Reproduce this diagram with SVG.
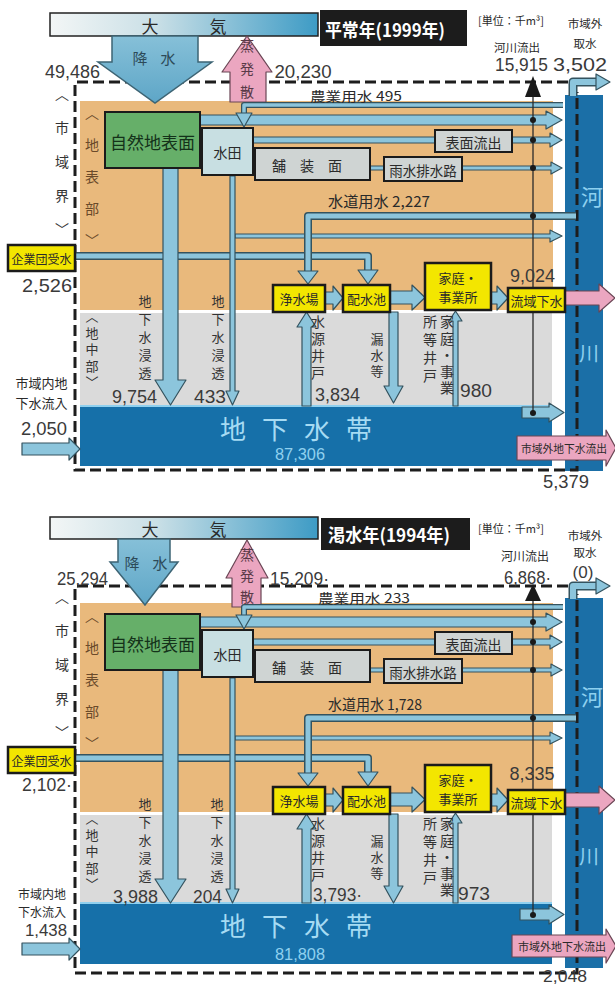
<svg xmlns="http://www.w3.org/2000/svg" width="615" height="987" viewBox="0 0 615 987">
<defs>
<linearGradient id="sky" x1="0" y1="0" x2="1" y2="0">
<stop offset="0" stop-color="#f3f6f6"/>
<stop offset="0.4" stop-color="#c9dfe6"/>
<stop offset="1" stop-color="#3d9bc5"/>
</linearGradient>
<linearGradient id="rainG" x1="0" y1="0" x2="0" y2="1">
<stop offset="0" stop-color="#86c0d8"/>
<stop offset="1" stop-color="#5ea6c7"/>
</linearGradient>
<style>
.or{fill:#e9b97c}
.gy{fill:#dadada}
.gw{fill:#1670a9}
.rv{fill:#1b6fa7}
.dash{fill:none;stroke:#1d1d1d;stroke-width:3;stroke-dasharray:11 5}
.fl{fill:#8cc5dc;stroke:#34535f;stroke-width:1.2;stroke-linejoin:round}
.rain{fill:url(#rainG);stroke:#3d6474;stroke-width:1.5}
.pk{fill:#eba6c0;stroke:#6a4655;stroke-width:1.2;stroke-linejoin:round}
.po{fill:none;stroke:#34535f;stroke-linejoin:round}
.pi{fill:none;stroke:#8cc5dc;stroke-linejoin:round}
.yb{fill:#f3e600;stroke:#1b1b1b;stroke-width:2.5}
.gb{fill:#cfd4d3;stroke:#1b1b1b;stroke-width:2}
.wb{fill:#c8dfe2;stroke:#1b1b1b;stroke-width:2}
.grn{fill:#66af69;stroke:#1b1b1b;stroke-width:2}
.t{font-family:"Noto Sans CJK JP","Noto Sans CJK SC",sans-serif;fill:#2a2a2a;text-anchor:middle;dominant-baseline:central}
.n{font-family:"Liberation Sans","Noto Sans CJK JP",sans-serif;fill:#3a3a3a;text-anchor:middle;dominant-baseline:central;font-size:18px}
.v{font-family:"Noto Sans CJK JP","Noto Sans CJK SC",sans-serif;fill:#333;writing-mode:vertical-rl;text-anchor:start}
.dot{fill:#1a1a1a}
.thin{stroke:#2a2a2a;stroke-width:1.3;fill:none}
.ah{fill:#1a1a1a}
</style>
</defs>
<rect x="0" y="0" width="615" height="987" fill="#ffffff"/>

<!-- ================= 1999 ================= -->
<g id="panel-1999">
<g id="zones-1999">
<rect class="or" x="80" y="101" width="473" height="209"/>
<rect class="gy" x="80" y="313" width="472" height="93"/>
</g>
<g id="groundwater-1999">
<rect class="gw" x="80" y="406" width="472" height="60"/>
<rect x="80" y="405" width="472" height="2" style="fill:#8fd0ef"/>
<text class="t" x="220" y="427" style="font-size:26px;text-anchor:start;letter-spacing:16px;fill:#a6dbf3">地下水帯</text>
<text class="n" x="300" y="454" textLength="50" lengthAdjust="spacingAndGlyphs" style="font-size:17px;fill:#8fd0ef">87,306</text>
</g>
<g id="river-1999">
<rect class="rv" x="565" y="95" width="38" height="376"/>
<text class="t" x="592" y="195" style="font-size:22px;fill:#8ed0ef">河</text>
<text class="t" x="589" y="352" style="font-size:20px;fill:#8ed0ef">川</text>
</g>
<g id="boundary-1999"><path class="dash" d="M568,82 H75 V470 H577 V92"/></g>
<g id="atmosphere-1999">
<rect x="50" y="13" width="268" height="23" style="fill:url(#sky);stroke:#222;stroke-width:1.5"/>
<text class="t" x="141.5" y="25" style="font-size:17px;text-anchor:start;letter-spacing:51px">大気</text>
</g>
<g id="title-1999">
<rect x="320" y="10" width="147" height="36" style="fill:#1c1c1c"/>
<text class="t" x="385" y="29" textLength="120" lengthAdjust="spacingAndGlyphs" style="font-size:18px;font-weight:bold;fill:#fff">平常年(1999年)</text>
<text class="t" x="511" y="20" style="font-size:11px">[単位：千m³]</text>
</g>

<g id="connectors-1999">
<polygon class="rain" points="112,36 198,36 198,62 212,62 155,103 98,62 112,62"/>
<polygon class="pk" points="247,36 272,72 266,72 266,102 230,102 230,72 222,72"/>
<polygon class="fl" points="200,115 546,115 546,111 562,120 546,129 546,125 200,125"/>
<path class="po" d="M563,105 H244 V114" stroke-width="6"/>
<path class="pi" d="M563,105 H244 V114" stroke-width="3.5"/>
<polygon class="fl" points="236,113 252,113 244,127"/>
<polygon class="fl" points="253,137 435,137 435,143 253,143"/>
<polygon class="fl" points="512,137 550,137 550,133 562,140 550,147 550,143 512,143"/>
<polygon class="fl" points="370,166 384,166 384,170 370,170"/>
<polygon class="fl" points="462,166 551,166 551,162 562,168 551,174 551,170 462,170"/>
<polygon class="fl" points="235,234 550,234 550,230 562,236 550,242 550,238 235,238"/>
<path class="po" d="M75,256 H368 V271" stroke-width="8"/>
<path class="pi" d="M75,256 H368 V271" stroke-width="5"/>
<polygon class="fl" points="358,270 378,270 368,284"/>
<path class="po" d="M576,216 H308 V272" stroke-width="8"/>
<path class="pi" d="M576,216 H308 V272" stroke-width="5"/>
<polygon class="fl" points="298,271 318,271 308,284"/>
<polygon class="fl" points="163,168 178,168 178,380 186,380 170.5,405 155,380 163,380"/>
<polygon class="fl" points="230,176 235,176 235,391 239,391 232.5,405 226,391 230,391"/>
<polygon class="fl" points="302,406 311,406 311,327 316,327 306.5,312 297,327 302,327"/>
<polygon class="fl" points="389,312 398,312 398,386 403,386 393.5,403 384,386 389,386"/>
<polygon class="fl" points="453,406 458,406 458,321 462,321 455.5,311 449,321 453,321"/>
<polygon class="fl" points="325,292 333,292 333,286 343,298 333,310 333,304 325,304"/>
<polygon class="fl" points="390,291 412,291 412,285 425,297.5 412,310 412,304 390,304"/>
<polygon class="fl" points="491,292 497,292 497,286 508,298 497,310 497,304 491,304"/>
<polygon class="pk" points="565,291 599,291 599,284 615,298 599,312 599,305 565,305"/>
<path class="po" d="M573,96 V82 H597" stroke-width="9"/>
<path class="pi" d="M573,96 V82 H597" stroke-width="6"/>
<polygon class="fl" points="596,74 596,90 610,82"/>
<polygon class="fl" points="522,407 549,407 549,403 564,412.5 549,422 549,418 522,418"/>
<line class="thin" x1="533" y1="96" x2="533" y2="413"/>
<polygon class="ah" points="533,76 541,97 525,97"/>
<circle class="dot" cx="533" cy="120" r="3"/>
<circle class="dot" cx="533" cy="140" r="3"/>
<circle class="dot" cx="533" cy="168" r="3"/>
<circle class="dot" cx="533" cy="216" r="3"/>
<circle class="dot" cx="533" cy="413" r="3"/>
<polygon class="fl" points="22,443 69,443 69,438 80,449 69,460 69,455 22,455"/>
<polygon class="pk" points="517,436 606,436 606,430 616,448 606,466 606,460 517,460"/>
<text class="t" x="564" y="448" textLength="86" lengthAdjust="spacingAndGlyphs" style="font-size:11.5px">市域外地下水流出</text>
</g>

<g id="node-shizen-1999"><rect class="grn" x="105" y="112" width="95" height="56"/><text class="t" x="152.5" y="141" style="font-size:17px;fill:#14321a">自然地表面</text></g>
<g id="node-suiden-1999"><rect class="wb" x="202" y="128" width="51" height="47"/><text class="t" x="227.5" y="152" style="font-size:14px">水田</text></g>
<g id="node-hosou-1999"><rect class="gb" x="255" y="148" width="115" height="32"/><text class="t" x="272" y="165" style="font-size:14px;text-anchor:start;letter-spacing:14px">舗装面</text></g>
<g id="node-usui-1999"><rect class="gb" x="384" y="157" width="78" height="24"/><text class="t" x="423" y="169.5" style="font-size:13.5px">雨水排水路</text></g>
<g id="node-hyomen-1999"><rect class="gb" x="435" y="130" width="77" height="22"/><text class="t" x="473.5" y="141.5" style="font-size:14px">表面流出</text></g>
<g id="node-kigyodan-1999"><rect class="yb" x="8" y="245" width="67" height="26"/><text class="t" x="41.5" y="258" style="font-size:12px">企業団受水</text></g>
<g id="node-josui-1999"><rect class="yb" x="273" y="285" width="52" height="27"/><text class="t" x="299" y="298.5" style="font-size:13px">浄水場</text></g>
<g id="node-haisui-1999"><rect class="yb" x="343" y="285" width="47" height="27"/><text class="t" x="366.5" y="298.5" style="font-size:13px">配水池</text></g>
<g id="node-katei-1999"><rect class="yb" x="425" y="263" width="66" height="47"/><text class="t" x="458" y="277" style="font-size:13px">家庭・</text><text class="t" x="458" y="296" style="font-size:13px">事業所</text></g>
<g id="node-ryuiki-1999"><rect class="yb" x="508" y="288" width="57" height="24"/><text class="t" x="536.5" y="300" style="font-size:13px">流域下水</text></g>

<g id="labels-1999">
<text class="v" x="62" y="87" style="font-size:14px;letter-spacing:20px">〈市域界〉</text>
<text class="v" x="92" y="106" style="font-size:14px;letter-spacing:18px;fill:#6a4a2a">〈地表部〉</text>
<text class="v" x="92" y="310" style="font-size:13px;letter-spacing:3.5px">〈地中部〉</text>
<text class="v" x="247" y="39" style="font-size:14px;letter-spacing:9px;fill:#5a3a48">蒸発散</text>
<text class="t" x="132.5" y="57" style="font-size:15px;text-anchor:start;letter-spacing:13px;fill:#2d4a58">降水</text>
<text class="v" x="145" y="295" style="font-size:13px;letter-spacing:5px">地下水浸透</text>
<text class="v" x="218" y="295" style="font-size:13px;letter-spacing:5px">地下水浸透</text>
<text class="v" x="318" y="315" style="font-size:14px;letter-spacing:3px">水源井戸</text>
<text class="v" x="377" y="333" style="font-size:13px;letter-spacing:3px">漏水等</text>
<text class="v" x="447" y="315" style="font-size:14px;letter-spacing:2.5px">家庭・事業</text>
<text class="v" x="430" y="315" style="font-size:14px;letter-spacing:4px">所等井戸</text>
<text class="n" x="72.5" y="71.5" textLength="55" lengthAdjust="spacingAndGlyphs">49,486</text>
<text class="n" x="303" y="71.5" textLength="57" lengthAdjust="spacingAndGlyphs">20,230</text>
<text class="t" x="517" y="47" style="font-size:11.5px">河川流出</text>
<text class="n" x="521.5" y="65" textLength="53" lengthAdjust="spacingAndGlyphs">15,915</text>
<text class="t" x="585" y="23" style="font-size:11.5px">市域外</text>
<text class="t" x="585" y="43" style="font-size:11.5px">取水</text>
<text class="n" x="580" y="65" textLength="54" lengthAdjust="spacingAndGlyphs">3,502</text>
<text class="t" x="356" y="95" textLength="92" lengthAdjust="spacingAndGlyphs" style="font-size:13px">農業用水 495</text>
<text class="t" x="379" y="200" textLength="102" lengthAdjust="spacingAndGlyphs" style="font-size:15px">水道用水 2,227</text>
<text class="n" x="47" y="285.5" textLength="50" lengthAdjust="spacingAndGlyphs">2,526</text>
<text class="n" x="532.5" y="276" textLength="45" lengthAdjust="spacingAndGlyphs">9,024</text>
<text class="n" x="134.5" y="396.5" textLength="45" lengthAdjust="spacingAndGlyphs">9,754</text>
<text class="n" x="210" y="396.5" textLength="32" lengthAdjust="spacingAndGlyphs">433</text>
<text class="n" x="337.5" y="394.5" textLength="45" lengthAdjust="spacingAndGlyphs">3,834</text>
<text class="n" x="476" y="390.5" textLength="32" lengthAdjust="spacingAndGlyphs">980</text>
<text class="t" x="41.5" y="382.5" style="font-size:13px">市域内地</text>
<text class="t" x="41.5" y="402.5" style="font-size:13px">下水流入</text>
<text class="n" x="44" y="428.5" textLength="46" lengthAdjust="spacingAndGlyphs">2,050</text>
<text class="n" x="566" y="481.5" textLength="46" lengthAdjust="spacingAndGlyphs">5,379</text>
</g>
</g>

<!-- ================= 1994 ================= -->
<g id="panel-1994" transform="translate(0,502)">
<g id="zones-1994">
<rect class="or" x="80" y="101" width="473" height="209"/>
<rect class="gy" x="80" y="313" width="472" height="88"/>
</g>
<g id="groundwater-1994">
<rect class="gw" x="80" y="401" width="472" height="61"/>
<rect x="80" y="400" width="472" height="2" style="fill:#8fd0ef"/>
<text class="t" x="220" y="422" style="font-size:26px;text-anchor:start;letter-spacing:16px;fill:#a6dbf3">地下水帯</text>
<text class="n" x="300" y="452.5" textLength="50" lengthAdjust="spacingAndGlyphs" style="font-size:17px;fill:#8fd0ef">81,808</text>
</g>
<g id="river-1994">
<rect class="rv" x="565" y="96" width="38" height="370"/>
<text class="t" x="592" y="193" style="font-size:22px;fill:#8ed0ef">河</text>
<text class="t" x="589" y="353" style="font-size:20px;fill:#8ed0ef">川</text>
</g>
<g id="boundary-1994"><path class="dash" d="M568,84 H75 V471 H577 V92"/></g>
<g id="atmosphere-1994">
<rect x="50" y="15" width="268" height="22" style="fill:url(#sky);stroke:#222;stroke-width:1.5"/>
<text class="t" x="141.5" y="26" style="font-size:17px;text-anchor:start;letter-spacing:51px">大気</text>
</g>
<g id="title-1994">
<rect x="321" y="16" width="149" height="32" style="fill:#1c1c1c"/>
<text class="t" x="389" y="32" textLength="122" lengthAdjust="spacingAndGlyphs" style="font-size:18px;font-weight:bold;fill:#fff">渇水年(1994年)</text>
<text class="t" x="511" y="26" style="font-size:11px">[単位：千m³]</text>
</g>

<g id="connectors-1994">
<polygon class="rain" points="118,37 170,37 170,60 178,60 145,103 110,60 118,60"/>
<polygon class="pk" points="247,38 268,76 261,76 261,105 232,105 232,76 226,76"/>
<polygon class="fl" points="200,115 546,115 546,111 562,120 546,129 546,125 200,125"/>
<path class="po" d="M563,105 H244 V114" stroke-width="6"/>
<path class="pi" d="M563,105 H244 V114" stroke-width="3.5"/>
<polygon class="fl" points="236,113 252,113 244,127"/>
<polygon class="fl" points="253,137 435,137 435,143 253,143"/>
<polygon class="fl" points="512,137 550,137 550,133 562,140 550,147 550,143 512,143"/>
<polygon class="fl" points="370,166 384,166 384,170 370,170"/>
<polygon class="fl" points="462,166 551,166 551,162 562,168 551,174 551,170 462,170"/>
<polygon class="fl" points="235,234 550,234 550,230 562,236 550,242 550,238 235,238"/>
<path class="po" d="M75,256 H368 V271" stroke-width="8"/>
<path class="pi" d="M75,256 H368 V271" stroke-width="5"/>
<polygon class="fl" points="358,270 378,270 368,284"/>
<path class="po" d="M576,216 H308 V272" stroke-width="8"/>
<path class="pi" d="M576,216 H308 V272" stroke-width="5"/>
<polygon class="fl" points="298,271 318,271 308,284"/>
<polygon class="fl" points="163,168 178,168 178,377 186,377 170.5,401 155,377 163,377"/>
<polygon class="fl" points="230,176 235,176 235,387 239,387 232.5,401 226,387 230,387"/>
<polygon class="fl" points="302,401 311,401 311,327 316,327 306.5,312 297,327 302,327"/>
<polygon class="fl" points="389,312 398,312 398,384 403,384 393.5,401 384,384 389,384"/>
<polygon class="fl" points="453,401 458,401 458,321 462,321 455.5,311 449,321 453,321"/>
<polygon class="fl" points="325,292 333,292 333,286 343,298 333,310 333,304 325,304"/>
<polygon class="fl" points="390,291 412,291 412,285 425,297.5 412,310 412,304 390,304"/>
<polygon class="fl" points="491,292 497,292 497,286 508,298 497,310 497,304 491,304"/>
<polygon class="pk" points="565,291 599,291 599,284 615,298 599,312 599,305 565,305"/>
<path class="po" d="M573,97 V84 H597" stroke-width="9"/>
<path class="pi" d="M573,97 V84 H597" stroke-width="6"/>
<polygon class="fl" points="596,76 596,92 610,84"/>
<polygon class="fl" points="520,407 549,407 549,403 564,412.5 549,422 549,418 520,418"/>
<line class="thin" x1="533" y1="97" x2="533" y2="413"/>
<polygon class="ah" points="533,82 541,99 525,99"/>
<circle class="dot" cx="533" cy="120" r="3"/>
<circle class="dot" cx="533" cy="140" r="3"/>
<circle class="dot" cx="533" cy="168" r="3"/>
<circle class="dot" cx="533" cy="216" r="3"/>
<circle class="dot" cx="533" cy="413" r="3"/>
<polygon class="fl" points="22,441 69,441 69,436 80,447 69,458 69,453 22,453"/>
<polygon class="pk" points="512,433 606,433 606,427 616,444 606,461 606,455 512,455"/>
<text class="t" x="562" y="444" textLength="88" lengthAdjust="spacingAndGlyphs" style="font-size:11.5px">市域外地下水流出</text>
</g>

<g id="node-shizen-1994"><rect class="grn" x="105" y="112" width="95" height="56"/><text class="t" x="152.5" y="141" style="font-size:17px;fill:#14321a">自然地表面</text></g>
<g id="node-suiden-1994"><rect class="wb" x="202" y="128" width="51" height="47"/><text class="t" x="227.5" y="152" style="font-size:14px">水田</text></g>
<g id="node-hosou-1994"><rect class="gb" x="255" y="148" width="115" height="32"/><text class="t" x="272" y="165" style="font-size:14px;text-anchor:start;letter-spacing:14px">舗装面</text></g>
<g id="node-usui-1994"><rect class="gb" x="384" y="157" width="78" height="24"/><text class="t" x="423" y="169.5" style="font-size:13.5px">雨水排水路</text></g>
<g id="node-hyomen-1994"><rect class="gb" x="435" y="130" width="77" height="22"/><text class="t" x="473.5" y="141.5" style="font-size:14px">表面流出</text></g>
<g id="node-kigyodan-1994"><rect class="yb" x="8" y="245" width="67" height="26"/><text class="t" x="41.5" y="258" style="font-size:12px">企業団受水</text></g>
<g id="node-josui-1994"><rect class="yb" x="273" y="285" width="52" height="27"/><text class="t" x="299" y="298.5" style="font-size:13px">浄水場</text></g>
<g id="node-haisui-1994"><rect class="yb" x="343" y="285" width="47" height="27"/><text class="t" x="366.5" y="298.5" style="font-size:13px">配水池</text></g>
<g id="node-katei-1994"><rect class="yb" x="425" y="263" width="66" height="47"/><text class="t" x="458" y="277" style="font-size:13px">家庭・</text><text class="t" x="458" y="296" style="font-size:13px">事業所</text></g>
<g id="node-ryuiki-1994"><rect class="yb" x="508" y="288" width="57" height="24"/><text class="t" x="536.5" y="300" style="font-size:13px">流域下水</text></g>

<g id="labels-1994">
<text class="v" x="62" y="88" style="font-size:14px;letter-spacing:20px">〈市域界〉</text>
<text class="v" x="92" y="107" style="font-size:14px;letter-spacing:18px;fill:#6a4a2a">〈地表部〉</text>
<text class="v" x="92" y="310" style="font-size:13px;letter-spacing:3.5px">〈地中部〉</text>
<text class="v" x="247" y="46" style="font-size:14px;letter-spacing:7px;fill:#5a3a48">蒸発散</text>
<text class="t" x="124.5" y="60" style="font-size:15px;text-anchor:start;letter-spacing:13px;fill:#2d4a58">降水</text>
<text class="v" x="145" y="296" style="font-size:13px;letter-spacing:5px">地下水浸透</text>
<text class="v" x="217" y="296" style="font-size:13px;letter-spacing:5px">地下水浸透</text>
<text class="v" x="318" y="315" style="font-size:14px;letter-spacing:3px">水源井戸</text>
<text class="v" x="377" y="333" style="font-size:13px;letter-spacing:3px">漏水等</text>
<text class="v" x="447" y="315" style="font-size:14px;letter-spacing:2.5px">家庭・事業</text>
<text class="v" x="430" y="315" style="font-size:14px;letter-spacing:4px">所等井戸</text>
<text class="n" x="82.5" y="76.5" textLength="51" lengthAdjust="spacingAndGlyphs">25,294</text>
<text class="n" x="299.5" y="76.5" textLength="59" lengthAdjust="spacingAndGlyphs">15,209·</text>
<text class="t" x="525" y="53" style="font-size:12px">河川流出</text>
<text class="n" x="527.5" y="75.5" textLength="47" lengthAdjust="spacingAndGlyphs">6,868·</text>
<text class="t" x="585" y="33" style="font-size:11.5px">市域外</text>
<text class="t" x="585" y="50" style="font-size:11.5px">取水</text>
<text class="n" x="583" y="70.5" style="font-size:17px">(0)</text>
<text class="t" x="364" y="95.5" textLength="92" lengthAdjust="spacingAndGlyphs" style="font-size:13px">農業用水 233</text>
<text class="t" x="375" y="201" textLength="94" lengthAdjust="spacingAndGlyphs" style="font-size:15px">水道用水 1,728</text>
<text class="n" x="47" y="283" textLength="50" lengthAdjust="spacingAndGlyphs">2,102·</text>
<text class="n" x="532" y="272" textLength="45" lengthAdjust="spacingAndGlyphs">8,335</text>
<text class="n" x="135.5" y="394.5" textLength="45" lengthAdjust="spacingAndGlyphs">3,988</text>
<text class="n" x="207.5" y="394.5" textLength="29" lengthAdjust="spacingAndGlyphs">204</text>
<text class="n" x="337.5" y="393" textLength="49" lengthAdjust="spacingAndGlyphs">3,793·</text>
<text class="n" x="474" y="391.5" textLength="32" lengthAdjust="spacingAndGlyphs">973</text>
<text class="t" x="42" y="391" style="font-size:12px">市域内地</text>
<text class="t" x="42" y="409" style="font-size:12px">下水流入</text>
<text class="n" x="46" y="428" textLength="42" lengthAdjust="spacingAndGlyphs" style="font-size:17px">1,438</text>
<text class="n" x="565" y="474" textLength="44" lengthAdjust="spacingAndGlyphs" style="font-size:16px">2,048</text>
</g>
</g>
</svg>
